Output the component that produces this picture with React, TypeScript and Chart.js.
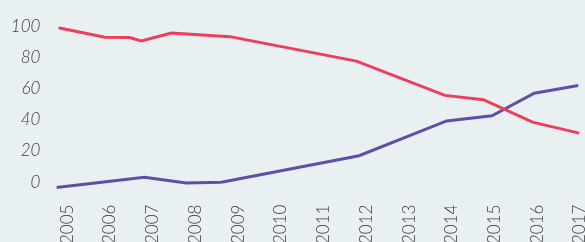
import React, { useEffect, useRef } from "react";
import { Chart, registerables } from "chart.js";

Chart.register(...registerables);

const yearTicks = [2005, 2006, 2007, 2008, 2009, 2010, 2011, 2012, 2013, 2014, 2015, 2016, 2017];
const yTicks = [0, 20, 40, 60, 80, 100];

const redYears = [2004.8, 2005.88, 2006.46, 2006.74, 2007.44, 2008.81, 2011.77, 2013.84, 2014.74, 2015.89, 2016.98];
const redValues = [99.0, 92.9, 92.7, 90.6, 95.6, 93.3, 77.6, 55.6, 52.8, 38.4, 31.4];

const blueYears = [2004.75, 2006.81, 2007.79, 2008.61, 2011.83, 2013.88, 2014.94, 2015.93, 2016.96];
const blueValues = [-3.5, 3.1, -0.6, -0.2, 16.9, 39.2, 42.5, 57.0, 61.9];

const RED = "#ef3d5c";
const BLUE = "#5a51a8";
const BG = "#e8f0f2";
const TEXT = "#404040";

export default function App() {
  const ref = useRef<HTMLCanvasElement | null>(null);

  useEffect(() => {
    if (!ref.current) return;
    const chart = new Chart(ref.current, {
      type: "line",
      data: {
        datasets: [
          {
            label: "red",
            data: redYears.map((x, i) => ({ x, y: redValues[i] })),
            borderColor: RED,
            borderWidth: 3,
            pointRadius: 0,
            tension: 0,
            fill: false,
          },
          {
            label: "blue",
            data: blueYears.map((x, i) => ({ x, y: blueValues[i] })),
            borderColor: BLUE,
            borderWidth: 3,
            pointRadius: 0,
            tension: 0,
            fill: false,
          },
        ],
      },
      options: {
        animation: false,
        responsive: true,
        maintainAspectRatio: false,
        layout: { padding: { top: 22.7, right: 5, left: 0, bottom: 0 } },
        plugins: { legend: { display: false }, tooltip: { enabled: false } },
        scales: {
          x: {
            type: "linear",
            min: 2004.75,
            max: 2017,
            grid: { display: false, drawTicks: false },
            border: { display: false },
            afterBuildTicks: (scale: any) => {
              scale.ticks = yearTicks.map((v) => ({ value: v }));
            },
            afterFit: (scale: any) => {
              scale.height = 44.4;
              scale.paddingLeft = 0;
              scale.paddingRight = 0;
            },
            ticks: {
              autoSkip: false,
              minRotation: 90,
              maxRotation: 90,
              padding: 7,
              color: TEXT,
              font: { family: "Lato", size: 17, weight: "300" },
              callback: (v: any) => String(v),
            },
          },
          y: {
            min: -10,
            max: 100,
            grid: { display: false, drawTicks: false },
            border: { display: false },
            afterBuildTicks: (scale: any) => {
              scale.ticks = yTicks.map((v) => ({ value: v }));
            },
            afterFit: (scale: any) => {
              scale.width = 56.4;
            },
            ticks: {
              padding: 16,
              color: TEXT,
              font: { family: "Lato", size: 17, style: "italic", weight: "300" },
              callback: (v: any) => String(v),
            },
          },
        },
      },
    });
    return () => chart.destroy();
  }, []);

  return (
    <div
      style={{
        position: "fixed",
        left: 0,
        top: 0,
        width: 585,
        height: 242,
        background: BG,
      }}
    >
      <canvas ref={ref} />
    </div>
  );
}
